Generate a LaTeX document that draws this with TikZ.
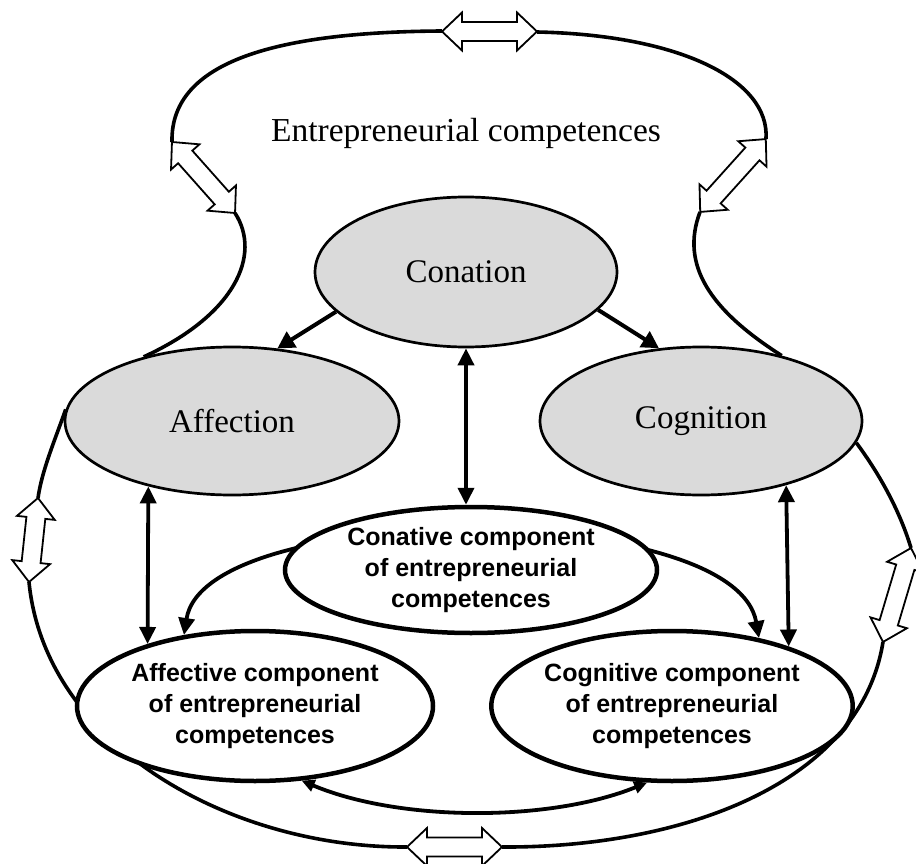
\documentclass[tikz,border=0pt]{standalone}
\usepackage{fontspec}
\setmainfont{Liberation Serif}
\newfontfamily\compfont{Liberation Sans}
\usetikzlibrary{shapes.geometric,arrows.meta}
\definecolor{ellgray}{RGB}{218,218,218}
\tikzset{
  grayell/.style={ellipse, draw, line width=2.7pt, fill=ellgray, inner sep=0pt,
    font=\fontsize{33}{39}\selectfont},
  compell/.style={ellipse, draw, line width=4.5pt, fill=white, inner sep=0pt, align=center,
    font=\compfont\bfseries\fontsize{25}{31}\selectfont},
  outline/.style={line width=3.6pt},
  arr/.style={line width=4pt, -{Triangle[length=17pt,width=18pt]}},
  dblarr/.style={line width=3.8pt, {Triangle[length=17pt,width=16pt]}-{Triangle[length=17pt,width=16pt]}},
  smalldbl/.style={line width=3.8pt, {Triangle[length=13pt,width=12pt]}-{Triangle[length=13pt,width=12pt]}},
  pics/blockarrow/.style={code={
    \draw[line width=1.8pt, fill=white, line join=miter]
      ({-#1/2},0) -- ({-#1/2+20},19) -- ({-#1/2+20},9.5) -- ({#1/2-20},9.5)
      -- ({#1/2-20},19) -- ({#1/2},0) -- ({#1/2-20},-19) -- ({#1/2-20},-9.5)
      -- ({-#1/2+20},-9.5) -- ({-#1/2+20},-19) -- cycle;
  }}
}
\begin{document}
\begin{tikzpicture}[x=1pt,y=-1pt]
\useasboundingbox (0,0) rectangle (916,864);
\clip (0,0) rectangle (916,864);

% block arrow tips
\coordinate (tT1) at (442,31);
\coordinate (tT2) at (537,32);
\coordinate (tL1) at (172,142);
\coordinate (tL2) at (235,213);
\coordinate (tR1) at (766,139);
\coordinate (tR2) at (700,212);
\coordinate (tLL1) at (38,498);
\coordinate (tLL2) at (29,582);
\coordinate (tRL1) at (911,548);
\coordinate (tRL2) at (883,642);
\coordinate (tB1) at (407,847);
\coordinate (tB2) at (502,847);

\node (title) at (466,133) {\fontsize{33.5}{40}\selectfont Entrepreneurial competences};

\node[grayell, minimum width=334pt, minimum height=148pt] (aff) at (232,421) {Affection};
\node[grayell, minimum width=322pt, minimum height=148pt] (cog) at (701,421) {Cognition};
\node[grayell, minimum width=302pt, minimum height=150pt] (con) at (466,272) {Conation};

% outer outline, top part
\draw[outline] (aff.144) .. controls (235,315) and (262,255) .. (tL2);
\draw[outline] (tL1) .. controls (170,60) and (280,32) .. (tT1);
\draw[outline] (tT2) .. controls (680,35) and (770,80) .. (tR1);
\draw[outline] (tR2) .. controls (680,265) and (710,310) .. (cog.39);

% outer outline, bottom part
\draw[outline] (aff.176) .. controls (55,440) and (42,470) .. (tLL1);
\draw[outline] (tLL2) .. controls (45,745) and (230,848) .. (tB1);
\draw[outline] (tB2) .. controls (680,848) and (860,785) .. (tRL2);
\draw[outline] (tRL1) .. controls (898,505) and (875,468) .. (cog.352);

\node[compell, minimum width=356pt, minimum height=150pt] (affc) at (255,706)
  {Affective component\\of entrepreneurial\\competences};
\node[compell, minimum width=356pt, minimum height=150pt] (cogc) at (672,706)
  {Cognitive component\\of entrepreneurial\\competences};

% arc behind the conative component
\draw[dblarr] (affc.135) .. controls (205,500) and (735,500) .. (cogc.38);

\node[compell, minimum width=372pt, minimum height=126pt] (conc) at (471,570)
  {Conative component\\of entrepreneurial\\competences};

% arrows
\draw[arr] (con.197) -- (aff.58);
\draw[arr] (con.344) -- (cog.120);
\draw[dblarr] (con.south) -- (con.south |- conc.north);
\draw[dblarr] (aff.218) -- (affc.150);
\draw[dblarr] (cog.323) -- (cogc.27);
\draw[smalldbl] (affc.302) .. controls (400,822) and (550,822) .. (cogc.252);

% hollow double arrows
\pic at (489.5,31.5) {blockarrow=95};
\pic[rotate=-48.4] at (203.5,177.5) {blockarrow=95};
\pic[rotate=48] at (733,175.5) {blockarrow=98};
\pic[rotate=83.9] at (33.5,540) {blockarrow=84.5};
\pic[rotate=73.4] at (897,595) {blockarrow=98};
\pic at (454.5,847) {blockarrow=95};
\end{tikzpicture}
\end{document}
